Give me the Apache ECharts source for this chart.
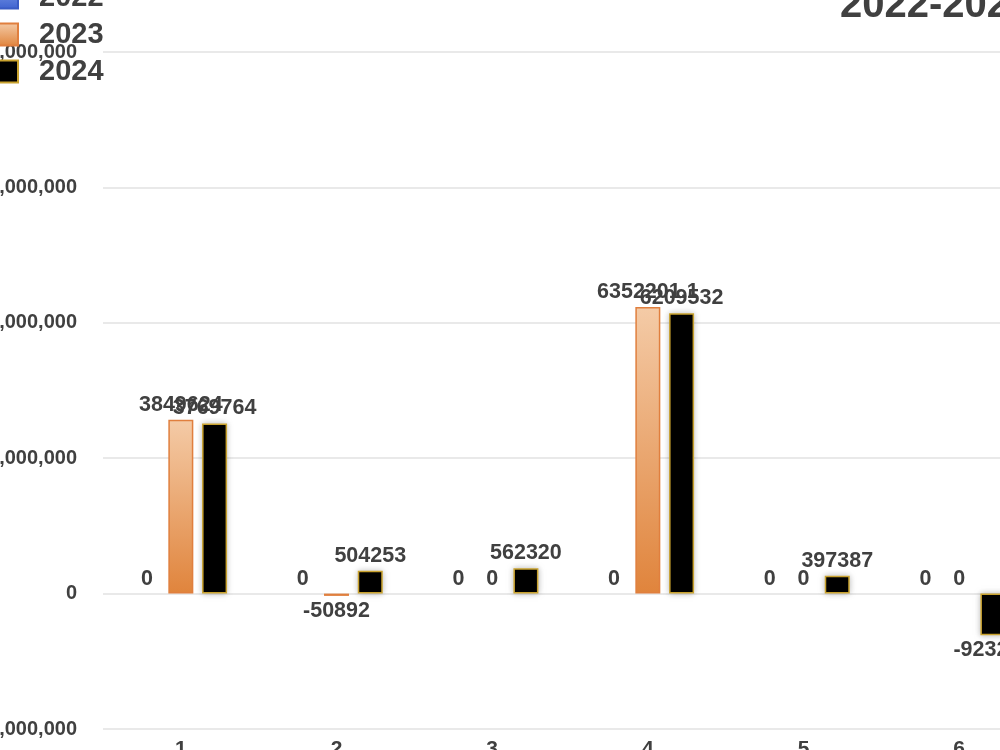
<!DOCTYPE html>
<html>
<head>
<meta charset="utf-8">
<script src="https://cdn.jsdelivr.net/npm/echarts@6/dist/echarts.min.js"></script>
<style>
  html, body { margin: 0; padding: 0; width: 1000px; height: 750px; overflow: hidden; background: #fff; }
  #chart { position: absolute; left: -20px; top: -40px; width: 1080px; height: 790px; }
</style>
</head>
<body>
<div id="chart"></div>
<script>
// categories + values
const categories = ["1", "2", "3", "4", "5", "6"];
const years = ["2022", "2023", "2024"];
const values2022 = [0, 0, 0, 0, 0, 0];
const values2023 = [3849624, -50892, 0, 6352201.1, 0, 0];
const values2024 = [3769764, 504253, 562320, 6209532, 397387, -923245];

const labelColor = "#404040";
const font = "Liberation Sans, Arial, sans-serif";

// negative bars get their label under the bar, zero bars draw no border
const toItems = (vals) => vals.map(v => ({
  value: v,
  label: { position: v < 0 ? "bottom" : "top" },
  itemStyle: v === 0 ? { borderWidth: 0, shadowBlur: 0 } : {}
}));

const barLabel = {
  show: true,
  color: labelColor,
  fontSize: 21.5,
  fontWeight: "bold",
  fontFamily: font,
  distance: 4
};

const chart = echarts.init(document.getElementById("chart"));
chart.setOption({
  animation: false,
  title: {
    text: "2022-2024",
    left: 860,
    top: 26,
    padding: 0,
    textStyle: { fontSize: 40, fontWeight: "bold", color: labelColor, fontFamily: font }
  },
  legend: {
    orient: "vertical",
    left: 15,
    top: 23,
    padding: 0,
    icon: "rect",
    itemWidth: 22,
    itemHeight: 22,
    itemGap: 8,
    data: years,
    textStyle: {
      fontSize: 29,
      fontWeight: "bold",
      color: labelColor,
      padding: [0, 0, 0, 16],
      fontFamily: font
    }
  },
  grid: {
    left: 123,
    right: 23,
    top: 92,
    bottom: 21,
    containLabel: false,
    outerBoundsMode: "none"
  },
  xAxis: {
    type: "category",
    data: categories,
    axisLine: { show: false },
    axisTick: { show: false },
    axisLabel: {
      color: labelColor,
      fontSize: 21,
      fontWeight: "bold",
      margin: 10,
      fontFamily: font
    }
  },
  yAxis: {
    type: "value",
    min: -3000000,
    max: 12000000,
    interval: 3000000,
    axisLine: { show: false },
    axisTick: { show: false },
    splitLine: { lineStyle: { color: "#e2e2e2", width: 1.5 } },
    axisLabel: {
      color: labelColor,
      fontSize: 20,
      fontWeight: "bold",
      margin: 26,
      fontFamily: font,
      formatter: (v) => v.toLocaleString("en-US")
    }
  },
  series: [
    {
      name: "2022",
      type: "bar",
      barWidth: 25,
      barGap: "35%",
      data: toItems(values2022),
      label: barLabel,
      itemStyle: {
        color: new echarts.graphic.LinearGradient(0, 0, 0, 1, [
          { offset: 0, color: "#7f9de9" },
          { offset: 1, color: "#3e62cf" }
        ]),
        borderColor: "#3a5cc4",
        borderWidth: 1.5
      }
    },
    {
      name: "2023",
      type: "bar",
      barWidth: 25,
      barGap: "35%",
      data: toItems(values2023),
      label: barLabel,
      itemStyle: {
        color: new echarts.graphic.LinearGradient(0, 0, 0, 1, [
          { offset: 0, color: "#f4cba7" },
          { offset: 1, color: "#e0843c" }
        ]),
        borderColor: "#e07f3e",
        borderWidth: 1.5
      }
    },
    {
      name: "2024",
      type: "bar",
      barWidth: 25,
      barGap: "35%",
      data: toItems(values2024),
      label: barLabel,
      itemStyle: {
        color: "#000000",
        borderColor: "#c9a22e",
        borderWidth: 1.5,
        shadowBlur: 6,
        shadowColor: "rgba(0,0,0,0.25)"
      }
    }
  ]
});
</script>
</body>
</html>
